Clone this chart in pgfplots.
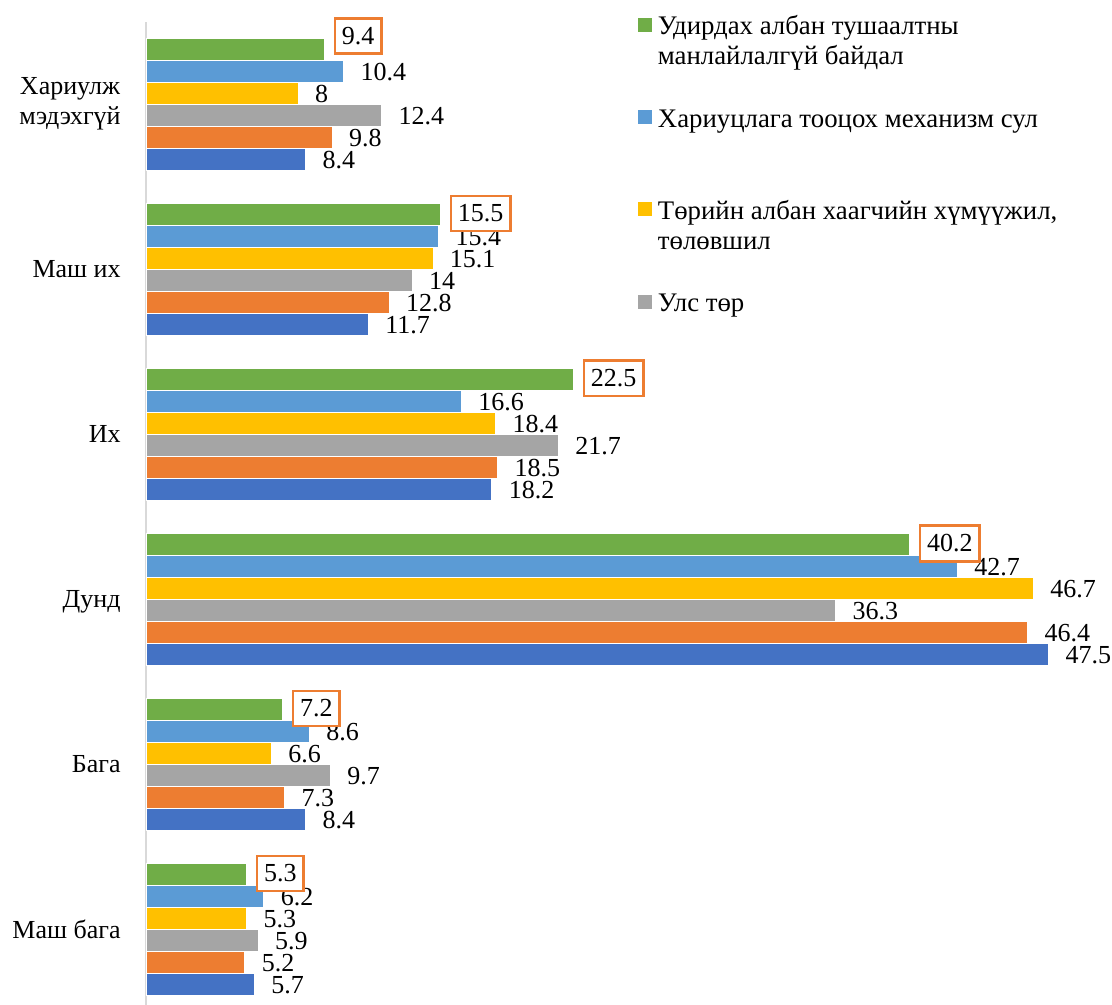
\documentclass[border=0pt]{standalone}
\usepackage{fontspec}
\setmainfont{Liberation Serif}
\usepackage{pgfplots}
\pgfplotsset{compat=1.18}

\definecolor{cGreen}{HTML}{70AD47}
\definecolor{cLBlue}{HTML}{5B9BD5}
\definecolor{cYellow}{HTML}{FFC000}
\definecolor{cGray}{HTML}{A5A5A5}
\definecolor{cOrange}{HTML}{ED7D31}
\definecolor{cBlue}{HTML}{4472C4}
\definecolor{cAxis}{HTML}{D9D9D9}

\begin{document}
\begin{tikzpicture}[font=\fontsize{13}{15}\selectfont]
\useasboundingbox (0,0) rectangle (556pt,502.5pt);
\begin{axis}[
  at={(73pt,0pt)}, anchor=south west,
  x=9.5pt, y=82.5pt,
  xmin=0, xmax=50, ymin=-0.46, ymax=5.5,
  xbar, bar width=11pt,
  clip=false,
  axis x line=none,
  axis y line*=left,
  y axis line style={draw=cAxis, line width=0.75pt},
  ytick={0,1,2,3,4,5},
  yticklabels={Маш бага, Бага, \raisebox{0pt}[\height][0pt]{Дунд}, Их, Маш их, {Хариулж\\мэдэхгүй}},
  major tick length=0pt,
  ytick style={draw=none},
  yticklabel style={align=center, inner sep=0pt, xshift=-12.5pt},
  /pgf/number format/assume math mode=true,
  point meta=x,
  nodes near coords,
  nodes near coords style={anchor=west, text=black},
  every axis plot/.append style={draw=white, line width=0.4pt},
  legend image code/.code={\fill[#1, draw=none] (0pt,1.5pt) rectangle (7pt,8.5pt);},
  reverse legend,
  legend style={at={(0.5178,1.005)}, anchor=north west, draw=none, fill=none,
    inner sep=0pt, outer sep=0pt, row sep=37.2pt, column sep=3pt,
    font=\fontsize{13.4}{15}\selectfont,
    cells={anchor=base west},
    nodes={inner sep=0pt, text height=9pt, text depth=0pt}},
  plainlab/.style={nodes near coords style={inner sep=0pt, xshift=8.3pt, yshift=-0.6pt}},
]
% drawn bottom-up so that the boxed labels of the first series lie on top
\addplot[fill=cBlue, bar shift=-27.5pt, plainlab, forget plot] coordinates {
  (5.7,0) (8.4,1) (47.5,2) (18.2,3) (11.7,4) (8.4,5)};
\addplot[fill=cOrange, bar shift=-16.5pt, plainlab, forget plot] coordinates {
  (5.2,0) (7.3,1) (46.4,2) (18.5,3) (12.8,4) (9.8,5)};
\addplot[fill=cGray, bar shift=-5.5pt, plainlab] coordinates {
  (5.9,0) (9.7,1) (36.3,2) (21.7,3) (14,4) (12.4,5)};
\addlegendentry{Улс төр}
\addplot[fill=cYellow, bar shift=5.5pt, plainlab] coordinates {
  (5.3,0) (6.6,1) (46.7,2) (18.4,3) (15.1,4) (8,5)};
\addlegendentry{\parbox[t]{240pt}{Төрийн албан хаагчийн хүмүүжил,\\төлөвшил}}
\addplot[fill=cLBlue, bar shift=16.5pt, plainlab] coordinates {
  (6.2,0) (8.6,1) (42.7,2) (16.6,3) (15.4,4) (10.4,5)};
\addlegendentry{Хариуцлага тооцох механизм сул}
\addplot[fill=cGreen, bar shift=27.5pt,
  visualization depends on={value \thisrow{dy} \as \labdy},
  nodes near coords style={draw=cOrange, line width=1.3pt, fill=white,
    inner xsep=3.5pt, inner ysep=4.45pt, xshift=4.5pt, yshift=\labdy pt}]
  table {
v   c dy
5.3 0 0.3
7.2 1 0.3
40.2 2 0.3
22.5 3 0.3
15.5 4 0.3
9.4 5 6.5
};
\addlegendentry{\parbox[t]{240pt}{Удирдах албан тушаалтны\\манлайлалгүй байдал}}
\end{axis}
\end{tikzpicture}
\end{document}
